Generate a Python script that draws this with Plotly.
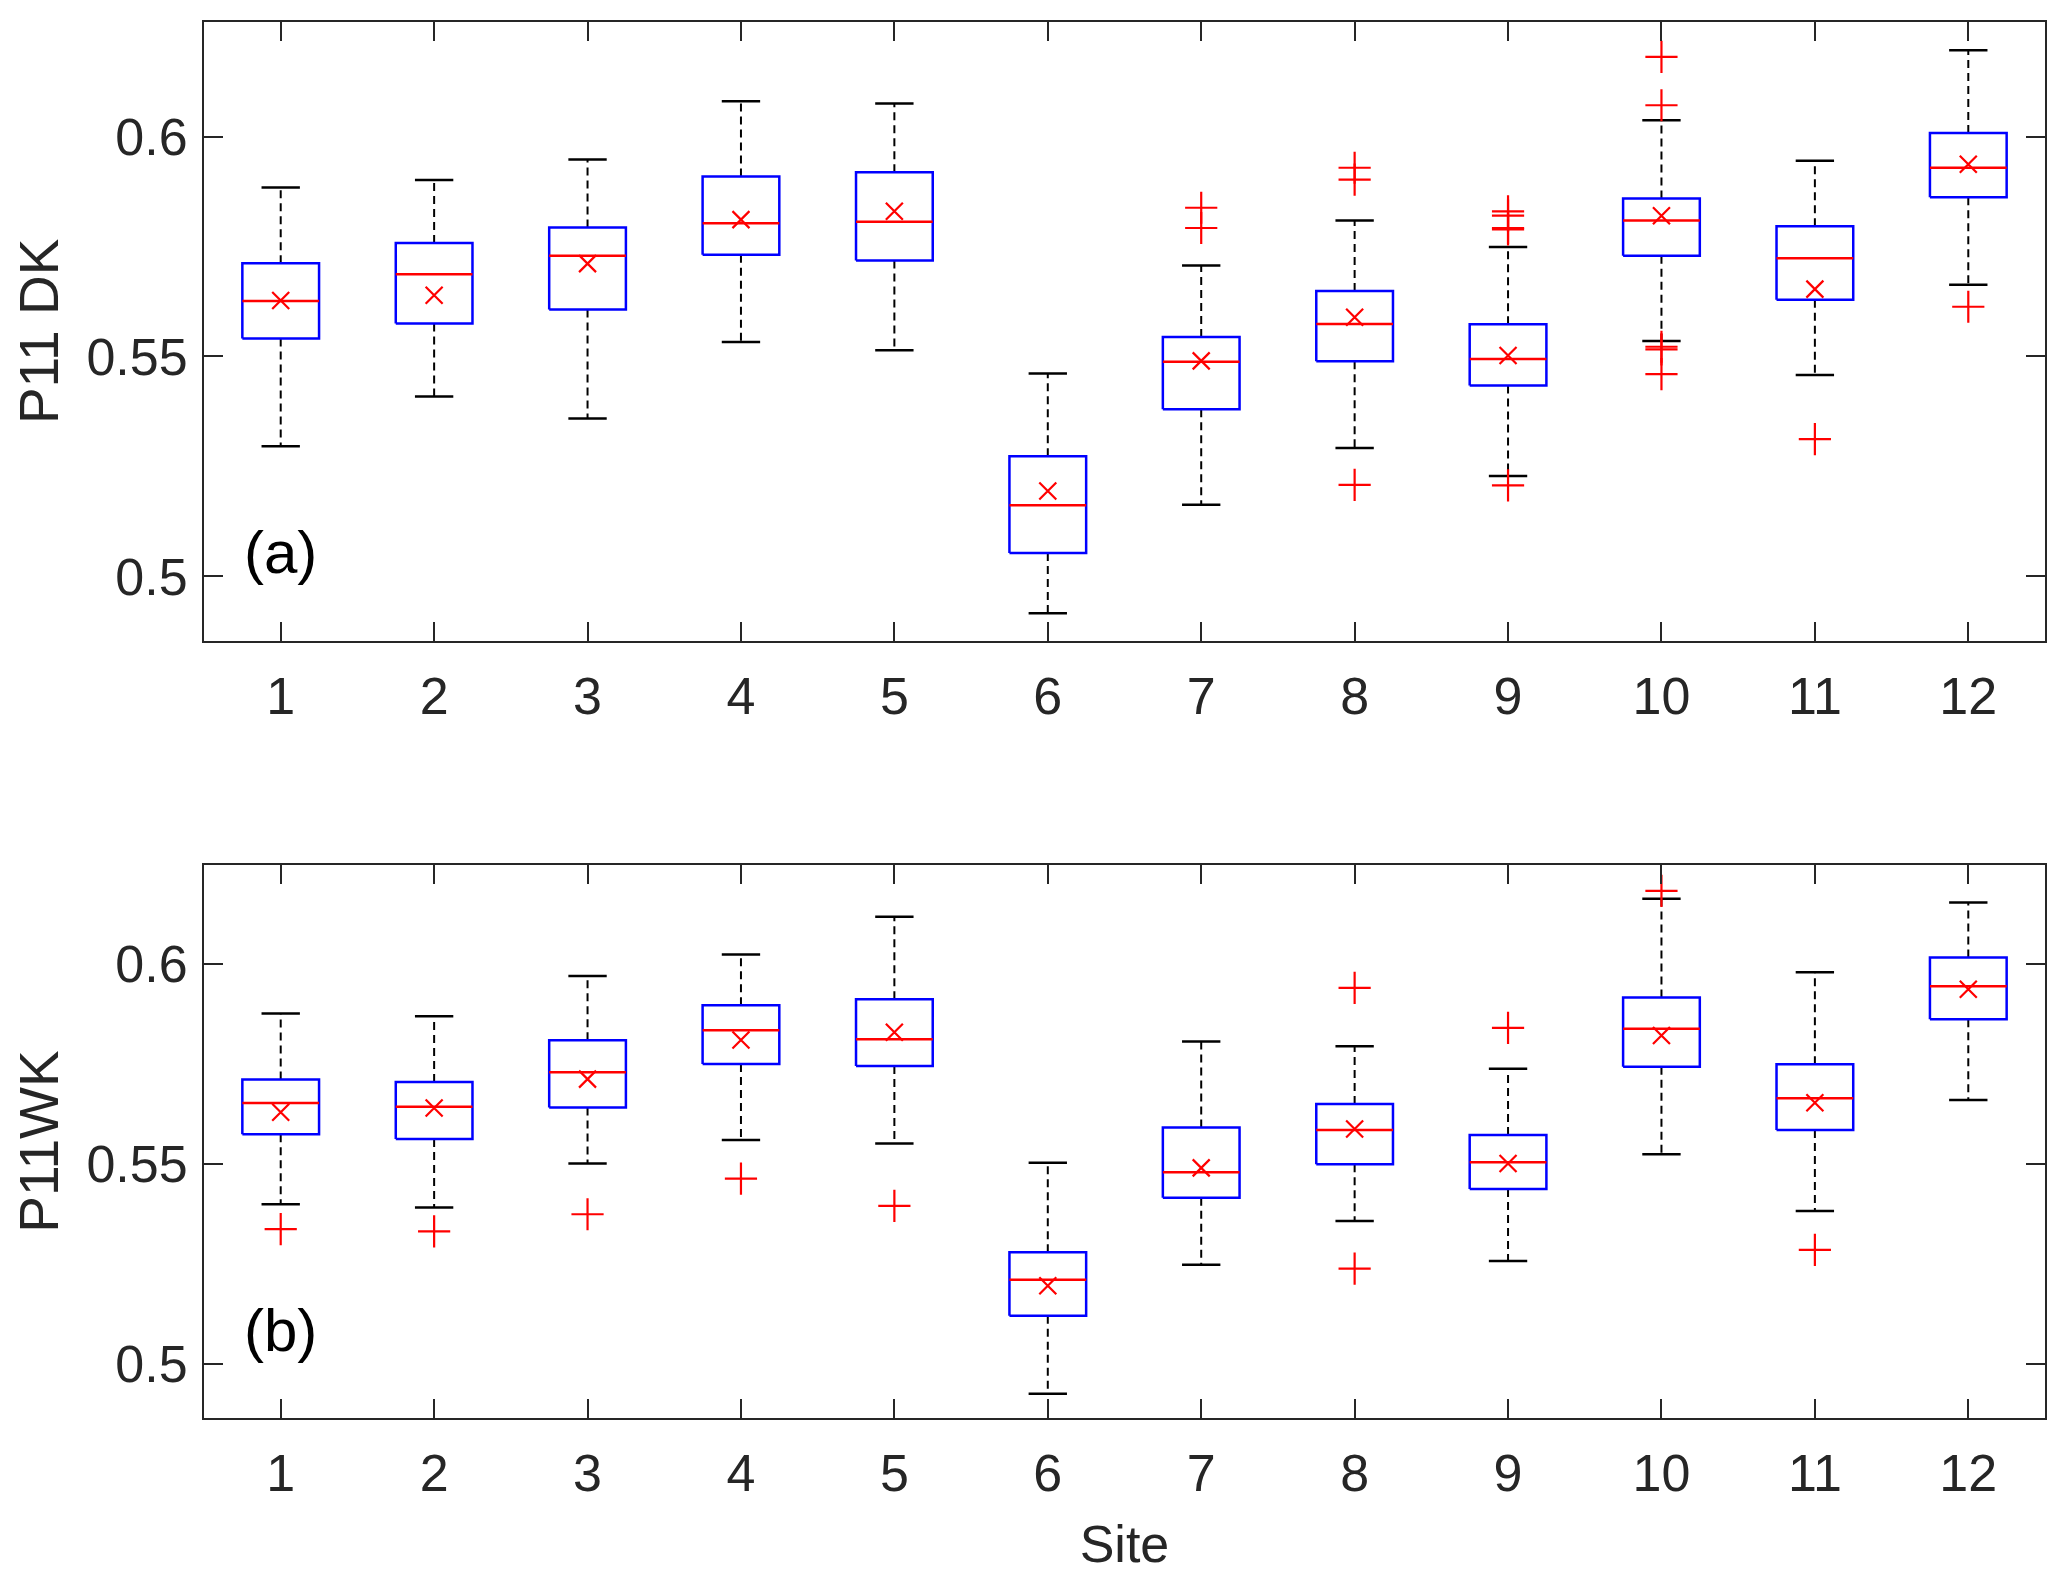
import plotly.graph_objects as go
from plotly.subplots import make_subplots

sites = list(range(1, 13))

# panel (a) P11 DK
dk_lo = [0.5296, 0.5409, 0.5359, 0.5533, 0.5514, 0.4916, 0.5163, 0.5292, 0.5228, 0.5535, 0.5458, 0.5663]
dk_q1 = [0.5541, 0.5575, 0.5607, 0.5731, 0.5718, 0.5053, 0.5380, 0.5489, 0.5434, 0.5729, 0.5629, 0.5862]
dk_med = [0.5626, 0.5687, 0.5729, 0.5803, 0.5806, 0.5162, 0.5488, 0.5574, 0.5494, 0.5809, 0.5723, 0.5929]
dk_q3 = [0.5712, 0.5758, 0.5793, 0.5909, 0.5919, 0.5273, 0.5544, 0.5649, 0.5573, 0.5859, 0.5796, 0.6008]
dk_hi = [0.5884, 0.5901, 0.5948, 0.6080, 0.6075, 0.5461, 0.5707, 0.5809, 0.5749, 0.6037, 0.5945, 0.6196]
dk_mean = [0.5627, 0.5639, 0.5711, 0.5811, 0.5830, 0.5194, 0.5490, 0.5589, 0.5502, 0.5820, 0.5653, 0.5937]
dk_out = [[], [], [], [], [], [],
          [0.5838, 0.5792],
          [0.5929, 0.5902, 0.5208],
          [0.5830, 0.5820, 0.5792, 0.5789, 0.5207],
          [0.6181, 0.6071, 0.5522, 0.5516, 0.5460],
          [0.5312],
          [0.5613]]

# panel (b) P11WK
wk_lo = [0.5399, 0.5391, 0.5501, 0.5560, 0.5551, 0.4925, 0.5248, 0.5357, 0.5257, 0.5524, 0.5382, 0.5660]
wk_q1 = [0.5574, 0.5562, 0.5641, 0.5750, 0.5745, 0.5120, 0.5415, 0.5499, 0.5437, 0.5743, 0.5585, 0.5862]
wk_med = [0.5652, 0.5643, 0.5729, 0.5834, 0.5812, 0.5210, 0.5479, 0.5585, 0.5504, 0.5838, 0.5664, 0.5944]
wk_q3 = [0.5711, 0.5705, 0.5809, 0.5897, 0.5912, 0.5279, 0.5591, 0.5650, 0.5572, 0.5916, 0.5749, 0.6016]
wk_hi = [0.5876, 0.5869, 0.5970, 0.6024, 0.6118, 0.5503, 0.5806, 0.5794, 0.5738, 0.6163, 0.5979, 0.6154]
wk_mean = [0.5629, 0.5640, 0.5712, 0.5810, 0.5829, 0.5195, 0.5490, 0.5587, 0.5501, 0.5821, 0.5653, 0.5937]
wk_out = [[0.5337], [0.5331], [0.5374], [0.5463], [0.5395], [], [],
          [0.5940, 0.5238], [0.5840], [0.6183], [0.5285], []]

panels = [
    ('P11 DK', '(a)', 0.5055, dk_lo, dk_q1, dk_med, dk_q3, dk_hi, dk_mean, dk_out, [0.48538, 0.62603], [0.5568, 1.0]),
    ('P11WK', '(b)', 0.5083, wk_lo, wk_q1, wk_med, wk_q3, wk_hi, wk_mean, wk_out, [0.48644, 0.62471], [0.0, 0.396]),
]

HALF = 0.25   # half box width
CAP = 0.125   # half cap width
AXC = '#262626'
FONT = 'Liberation Sans, Arial, sans-serif'
FS = 52

fig = make_subplots(rows=2, cols=1)

for row, (ylab, tag, tag_y, lo, q1, med, q3, hi, mean, out, yr, dom) in enumerate(panels, start=1):
    bx, by, mx, my, wx, wy, cx, cy, ox, oy = [], [], [], [], [], [], [], [], [], []
    for i, s in enumerate(sites):
        bx += [s - HALF, s + HALF, s + HALF, s - HALF, s - HALF, None]
        by += [q1[i], q1[i], q3[i], q3[i], q1[i], None]
        mx += [s - HALF, s + HALF, None]
        my += [med[i], med[i], None]
        wx += [s, s, None, s, s, None]
        wy += [q3[i], hi[i], None, q1[i], lo[i], None]
        cx += [s - CAP, s + CAP, None, s - CAP, s + CAP, None]
        cy += [hi[i], hi[i], None, lo[i], lo[i], None]
        for v in out[i]:
            ox.append(s)
            oy.append(v)

    fig.add_trace(go.Scatter(x=wx, y=wy, mode='lines', line=dict(color='black', width=2, dash='8px,5px'),
                             showlegend=False, hoverinfo='skip'), row=row, col=1)
    fig.add_trace(go.Scatter(x=cx, y=cy, mode='lines', line=dict(color='black', width=2.5),
                             showlegend=False, hoverinfo='skip'), row=row, col=1)
    fig.add_trace(go.Scatter(x=bx, y=by, mode='lines', line=dict(color='#0000ff', width=2.5),
                             fill='toself', fillcolor='white', showlegend=False), row=row, col=1)
    fig.add_trace(go.Scatter(x=mx, y=my, mode='lines', line=dict(color='#ff0000', width=2.5),
                             showlegend=False), row=row, col=1)
    fig.add_trace(go.Scatter(x=ox, y=oy, mode='markers',
                             marker=dict(symbol='cross-thin', size=23, line=dict(color='#ff0000', width=2.2)),
                             showlegend=False), row=row, col=1)
    fig.add_trace(go.Scatter(x=sites, y=mean, mode='markers',
                             marker=dict(symbol='x-thin', size=17, line=dict(color='#ff0000', width=2.2)),
                             showlegend=False), row=row, col=1)

    sfx = str(row) if row > 1 else ''
    fig.add_annotation(x=1, y=tag_y, text=tag, showarrow=False, xref='x' + sfx, yref='y' + sfx,
                       font=dict(family=FONT, size=60, color='black'))

    fig.update_xaxes(range=[0.5, 12.5], tickvals=sites, ticktext=[str(s) for s in sites],
                     ticks='inside', ticklen=19, tickwidth=2, tickcolor=AXC, ticklabelstandoff=9,
                     showline=True, linecolor=AXC, linewidth=2, mirror='ticks',
                     showgrid=False, zeroline=False,
                     tickfont=dict(family=FONT, size=FS, color=AXC), row=row, col=1)
    fig.update_yaxes(range=yr, domain=dom, tickvals=[0.5, 0.55, 0.6], ticktext=['0.5', '0.55', '0.6'],
                     ticks='inside', ticklen=19, tickwidth=2, tickcolor=AXC, ticklabelstandoff=4,
                     showline=True, linecolor=AXC, linewidth=2, mirror='ticks',
                     showgrid=False, zeroline=False,
                     title=dict(text=ylab, font=dict(family=FONT, size=55, color=AXC), standoff=18),
                     tickfont=dict(family=FONT, size=FS, color=AXC), row=row, col=1)

fig.update_xaxes(title=dict(text='Site', font=dict(family=FONT, size=FS, color=AXC), standoff=24), row=2, col=1)

# page body has an 8px margin, so the figure is a little smaller than the window
fig.update_layout(
    width=2051, height=1567,
    margin=dict(l=196, r=13, t=13, b=155),
    plot_bgcolor='white', paper_bgcolor='white',
)

fig.write_html("out.html")
